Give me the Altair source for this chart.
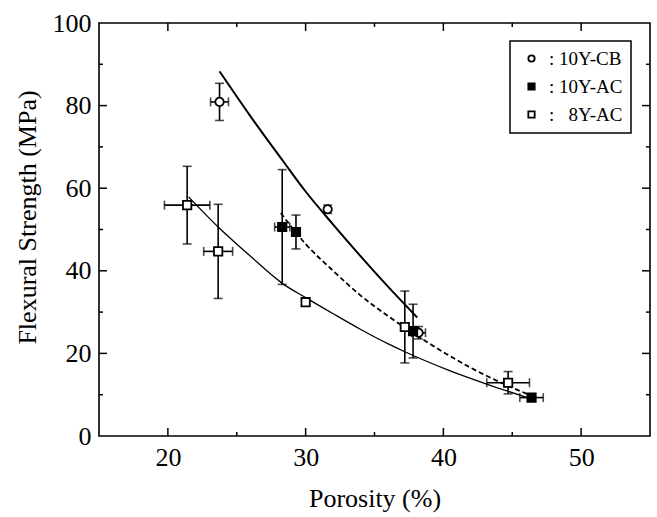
import altair as alt
import pandas as pd

FONT = "Liberation Serif"

series_names = ["10Y-CB", "10Y-AC", "8Y-AC"]
legend_labels = [": 10Y-CB", ": 10Y-AC", ":\u00a0\u20078Y-AC"]
shapes = ["circle", "square", "square"]
fills = ["white", "black", "white"]
strokes = ["black", "black", "black"]

# 10Y-CB (open circles)
cb_x = [23.75, 31.6, 38.2]
cb_y = [80.9, 54.9, 25.0]
cb_xerr = [0.65, 0.0, 0.5]
cb_yerr = [4.5, 1.0, 1.5]

# 10Y-AC (filled squares)
ac10_x = [28.3, 29.3, 37.8, 46.4]
ac10_y = [50.6, 49.4, 25.4, 9.3]
ac10_xerr = [0.55, 0.0, 0.0, 0.85]
ac10_yerr = [13.9, 4.1, 6.5, 0.0]

# 8Y-AC (open squares)
ac8_x = [21.4, 23.65, 30.0, 37.2, 44.7]
ac8_y = [55.9, 44.7, 32.4, 26.4, 12.9]
ac8_xerr = [1.65, 1.05, 0.0, 0.0, 1.55]
ac8_yerr = [9.4, 11.4, 0.0, 8.7, 2.7]

# fitted curves
cb_fit_x = [23.75, 26.0, 28.4, 30.0, 32.0, 34.0, 36.0, 38.1]
cb_fit_y = [88.3, 77.4, 66.4, 59.2, 51.2, 43.5, 36.1, 28.7]
ac10_fit_x = [28.2, 29.0, 30.0, 32.0, 34.0, 36.0, 38.0, 40.0, 42.0, 44.0, 46.2]
ac10_fit_y = [54.0, 50.5, 46.5, 40.0, 34.0, 29.0, 24.5, 20.3, 16.5, 13.2, 10.0]
ac8_fit_x = [21.5, 23.65, 25.9, 28.33, 30.0, 32.0, 34.0, 36.0, 37.2, 40.4, 43.3, 46.0]
ac8_fit_y = [57.9, 50.6, 43.8, 36.9, 33.5, 29.6, 25.8, 22.3, 20.4, 15.9, 12.4, 9.4]

x_labels = [20, 30, 40, 50]
y_labels = [0, 20, 40, 60, 80, 100]
x_major = [20, 30, 40, 50]
x_minor = [25, 35, 45]
y_major = [20, 40, 60, 80]
y_minor = [10, 30, 50, 70, 90]

rows = []
for name, xs, ys, xe, ye in [
    ("10Y-CB", cb_x, cb_y, cb_xerr, cb_yerr),
    ("10Y-AC", ac10_x, ac10_y, ac10_xerr, ac10_yerr),
    ("8Y-AC", ac8_x, ac8_y, ac8_xerr, ac8_yerr),
]:
    for a, b, c, d in zip(xs, ys, xe, ye):
        rows.append(dict(series=name, x=a, y=b, xerr=c, yerr=d,
                         xlo=a - c, xhi=a + c, ylo=b - d, yhi=b + d))
pts = pd.DataFrame(rows)

fit_rows = []
for name, xs, ys in [("10Y-CB", cb_fit_x, cb_fit_y),
                     ("10Y-AC", ac10_fit_x, ac10_fit_y),
                     ("8Y-AC", ac8_fit_x, ac8_fit_y)]:
    for a, b in zip(xs, ys):
        fit_rows.append(dict(series=name, x=a, y=b))
fits = pd.DataFrame(fit_rows)

W, H = 551, 413
xs_ = alt.Scale(domain=[15, 55], nice=False, zero=False)
ys_ = alt.Scale(domain=[0, 100], nice=False, zero=False)

common_ax = dict(format="d", ticks=False, tickSize=0, domain=False, grid=False, labelPadding=8,
                 labelFont=FONT, labelFontSize=26, labelColor="black",
                 titleFont=FONT, titleFontSize=26, titleFontWeight="normal", titleColor="black",
                 titleBaseline="middle")
ax_x = alt.Axis(title="Porosity (%)", values=x_labels, titleY=62, **common_ax)
ax_y = alt.Axis(title="Flexural Strength (MPa)", values=y_labels, titleX=-72, titleY=194, **common_ax)

X = lambda f: alt.X(f, type="quantitative", scale=xs_, axis=ax_x)
Y = lambda f: alt.Y(f, type="quantitative", scale=ys_, axis=ax_y)

base_pts = alt.Chart(pts)

# fits
fit_cb = alt.Chart(fits).transform_filter(alt.datum.series == "10Y-CB").mark_line(
    color="black", strokeWidth=2, interpolate="monotone").encode(x=X("x"), y=Y("y"))
fit_10 = alt.Chart(fits).transform_filter(alt.datum.series == "10Y-AC").mark_line(
    color="black", strokeWidth=1.8, strokeDash=[5, 3], interpolate="monotone").encode(x=X("x"), y=Y("y"))
fit_8 = alt.Chart(fits).transform_filter(alt.datum.series == "8Y-AC").mark_line(
    color="black", strokeWidth=1.3, interpolate="monotone").encode(x=X("x"), y=Y("y"))

# error bars
vbar = base_pts.transform_filter(alt.datum.yerr > 0).mark_rule(color="black", strokeWidth=1.6).encode(
    x=X("x"), y=Y("ylo"), y2="yhi")
vcap_lo = base_pts.transform_filter(alt.datum.yerr > 0).mark_tick(
    color="black", orient="horizontal", size=9, thickness=1.6).encode(x=X("x"), y=Y("ylo"))
vcap_hi = base_pts.transform_filter(alt.datum.yerr > 0).mark_tick(
    color="black", orient="horizontal", size=9, thickness=1.6).encode(x=X("x"), y=Y("yhi"))
hbar = base_pts.transform_filter(alt.datum.xerr > 0).mark_rule(color="black", strokeWidth=1.6).encode(
    x=X("xlo"), x2="xhi", y=Y("y"))
hcap_lo = base_pts.transform_filter(alt.datum.xerr > 0).mark_tick(
    color="black", orient="vertical", size=9, thickness=1.6).encode(x=X("xlo"), y=Y("y"))
hcap_hi = base_pts.transform_filter(alt.datum.xerr > 0).mark_tick(
    color="black", orient="vertical", size=9, thickness=1.6).encode(x=X("xhi"), y=Y("y"))

label_expr = ("datum.label == '10Y-CB' ? '" + legend_labels[0] + "' : datum.label == '10Y-AC' ? '"
              + legend_labels[1] + "' : '" + legend_labels[2] + "'")
leg = alt.Legend(title=None, labelExpr=label_expr)

markers = base_pts.mark_point(filled=True, strokeWidth=1.8, size=70, opacity=1).encode(
    x=X("x"),
    y=Y("y"),
    shape=alt.Shape("series:N", scale=alt.Scale(domain=series_names, range=shapes), legend=leg),
    fill=alt.Fill("series:N", scale=alt.Scale(domain=series_names, range=fills), legend=leg),
    stroke=alt.Stroke("series:N", scale=alt.Scale(domain=series_names, range=strokes), legend=leg),
)

# inward ticks on all four sides
tx_major = pd.DataFrame({"v": x_major})
tx_minor = pd.DataFrame({"v": x_minor})
ty_major = pd.DataFrame({"v": y_major})
ty_minor = pd.DataFrame({"v": y_minor})

def xticks(df, ln):
    b = alt.Chart(df).mark_rule(color="black", strokeWidth=1.5)
    return (b.encode(x=X("v"), y=alt.value(H), y2=alt.value(H - ln)) +
            b.encode(x=X("v"), y=alt.value(0), y2=alt.value(ln)))

def yticks(df, ln):
    b = alt.Chart(df).mark_rule(color="black", strokeWidth=1.5)
    return (b.encode(y=Y("v"), x=alt.value(0), x2=alt.value(ln)) +
            b.encode(y=Y("v"), x=alt.value(W), x2=alt.value(W - ln)))

chart = alt.layer(
    xticks(tx_major, 8), xticks(tx_minor, 4), yticks(ty_major, 8), yticks(ty_minor, 4),
    fit_8, fit_10, fit_cb,
    vbar, vcap_lo, vcap_hi, hbar, hcap_lo, hcap_hi,
    markers,
).properties(
    width=W, height=H,
    autosize=alt.AutoSizeParams(type="none"),
    padding={"left": 99, "top": 23, "right": 7, "bottom": 81},
).configure_view(
    stroke="black", strokeWidth=1.6
).configure_axis(
    labelFont=FONT, titleFont=FONT,
).configure_legend(
    orient="none", legendX=411, legendY=18,
    strokeColor="black", strokeWidth=1.5, fillColor="white",
    padding=8, rowPadding=8, symbolSize=40, symbolStrokeWidth=1.8,
    symbolOffset=4, labelOffset=8,
    labelFont=FONT, labelFontSize=19, labelColor="black",
)

chart.save("out.html", embed_options={"renderer": "svg", "actions": False})
